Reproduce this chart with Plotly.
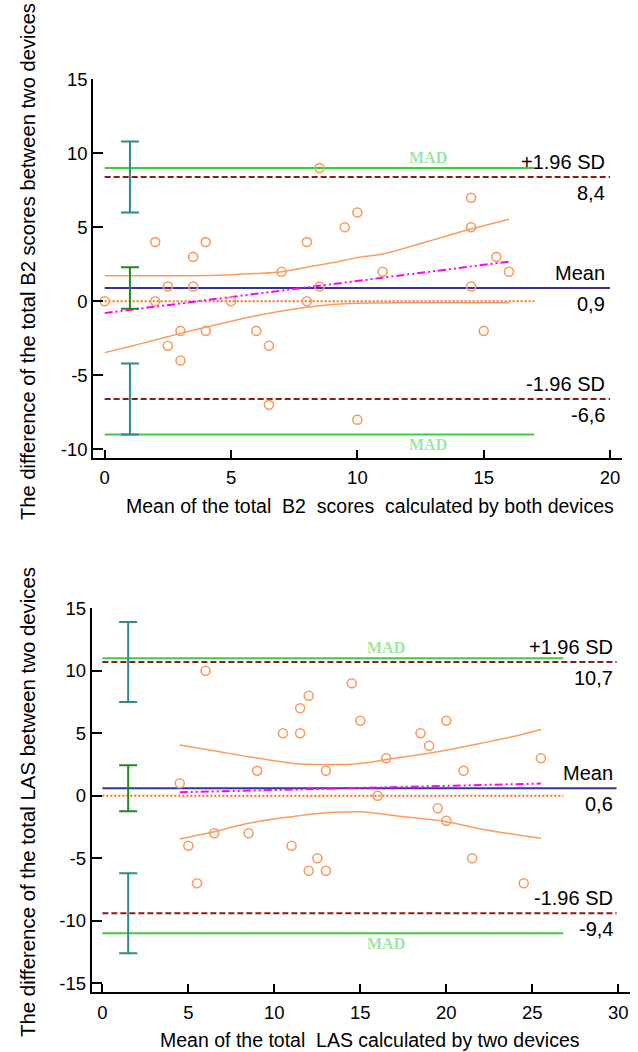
import plotly.graph_objects as go

# ---------------- Top panel: B2 scores ----------------
b2_x = [0, 2, 2, 2.5, 2.5, 3, 3, 3.5, 3.5, 4, 4, 5, 6, 6.5, 6.5, 7, 8, 8, 8.5, 8.5,
        9.5, 10, 10, 11, 14.5, 14.5, 14.5, 15, 15.5, 16]
b2_y = [0, 4, 0, 1, -3, -2, -4, 3, 1, 4, -2, 0, -2, -3, -7, 2, 4, 0, 9, 1,
        5, 6, -8, 2, 7, 5, 1, -2, 3, 2]
b2_mean = 0.9
b2_upper = 8.4
b2_lower = -6.6
b2_mad = 9
b2_ci_mean = 1.4      # half-width of CI of mean
b2_ci_loa = 2.4       # half-width of CI of limits of agreement
b2_reg_x = [0, 16]
b2_reg_y = [-0.8, 2.68]
b2_band_up_x = [0, 2, 4, 5, 6, 7, 8, 9, 10, 11, 12, 13, 14, 15, 16]
b2_band_up_y = [1.73, 1.73, 1.75, 1.8, 1.88, 2.0, 2.3, 2.6, 2.95, 3.2, 3.65, 4.15, 4.65, 5.1, 5.55]
b2_band_lo_x = [0, 1, 2, 3, 4, 5, 6, 7, 8, 9, 10, 12, 14, 16]
b2_band_lo_y = [-3.47, -3.05, -2.62, -2.17, -1.75, -1.35, -0.98, -0.66, -0.4, -0.22, -0.13, -0.1, -0.1, -0.1]
b2_xticks = [0, 5, 10, 15, 20]
b2_yticks = [15, 10, 5, 0, -5, -10]

# ---------------- Bottom panel: LAS ----------------
las_x = [4.5, 5, 5.5, 6, 6.5, 8.5, 9, 10.5, 11, 11.5, 11.5, 12, 12, 12.5, 13, 13,
         14.5, 15, 16, 16.5, 18.5, 19, 19.5, 20, 20, 21, 21.5, 24.5, 25.5]
las_y = [1, -4, -7, 10, -3, -3, 2, 5, -4, 5, 7, 8, -6, -5, -6, 2,
         9, 6, 0, 3, 5, 4, -1, 6, -2, 2, -5, -7, 3]
las_mean = 0.6
las_upper = 10.7
las_lower = -9.4
las_mad = 11
las_ci_mean = 1.84
las_ci_loa = 3.2
las_reg_x = [4.5, 25.5]
las_reg_y = [0.27, 0.97]
las_band_up_x = [4.5, 6.5, 8.5, 11, 12, 13.2, 14.5, 15.5, 16.5, 19, 21.5, 23.7, 25.5]
las_band_up_y = [4.06, 3.6, 3.12, 2.6, 2.51, 2.5, 2.52, 2.66, 2.9, 3.4, 4.05, 4.67, 5.3]
las_band_lo_x = [4.5, 6.5, 8.5, 11, 13, 14.5, 15.2, 17, 20, 22, 25.5]
las_band_lo_y = [-3.46, -2.88, -2.2, -1.68, -1.36, -1.3, -1.3, -1.6, -2.08, -2.66, -3.41]
las_xticks = [0, 5, 10, 15, 20, 25, 30]
las_yticks = [15, 10, 5, 0, -5, -10, -15]

W, H = 638, 1052
FONT = "Liberation Sans, Arial, sans-serif"
SERIF = "Liberation Serif, Times New Roman, serif"

ORANGE = "#ff9a5c"
ZERO = "#ff6a1f"
NAVY = "#34349c"
DRED = "#8b1a1a"
GREEN = "#3ccc3c"
TEAL = "#2b8c8c"
DGREEN = "#1f8a1f"
MAGENTA = "#ff00ff"
MADTXT = "#9fe69f"

fig = go.Figure()


def hline(xa, ya, x0, x1, y, color, dash="solid", width=2):
    fig.add_trace(go.Scatter(x=[x0, x1], y=[y, y], mode="lines", xaxis=xa, yaxis=ya,
                             line=dict(color=color, width=width, dash=dash),
                             hoverinfo="skip", showlegend=False))


def panel(xa, ya, px, py, mean, up, lo, mad, ci_m, ci_l, regx, regy,
          bux, buy, blx, bly, xend, madend, ebx, txt_x, mad_x):
    hline(xa, ya, 0, madend, mad, GREEN)
    hline(xa, ya, 0, madend, -mad, GREEN)
    hline(xa, ya, 0, xend, up, DRED, dash="6px,3px")
    hline(xa, ya, 0, xend, lo, DRED, dash="6px,3px")
    hline(xa, ya, 0, xend, mean, NAVY)
    hline(xa, ya, 0, madend, 0, ZERO, dash="2px,2px")
    fig.add_trace(go.Scatter(x=bux, y=buy, mode="lines", xaxis=xa, yaxis=ya,
                             line=dict(color=ORANGE, width=1.5, shape="spline"),
                             hoverinfo="skip", showlegend=False))
    fig.add_trace(go.Scatter(x=blx, y=bly, mode="lines", xaxis=xa, yaxis=ya,
                             line=dict(color=ORANGE, width=1.5, shape="spline"),
                             hoverinfo="skip", showlegend=False))
    fig.add_trace(go.Scatter(x=regx, y=regy, mode="lines", xaxis=xa, yaxis=ya,
                             line=dict(color=MAGENTA, width=2, dash="8px,3px,2px,3px,2px,3px"),
                             hoverinfo="skip", showlegend=False))
    fig.add_trace(go.Scatter(x=[ebx, ebx], y=[up, lo], mode="markers", xaxis=xa, yaxis=ya,
                             marker=dict(size=1, color="rgba(0,0,0,0)"),
                             error_y=dict(type="constant", value=ci_l, color=TEAL,
                                          thickness=2, width=9),
                             hoverinfo="skip", showlegend=False))
    fig.add_trace(go.Scatter(x=[ebx], y=[mean], mode="markers", xaxis=xa, yaxis=ya,
                             marker=dict(size=1, color="rgba(0,0,0,0)"),
                             error_y=dict(type="constant", value=ci_m, color=DGREEN,
                                          thickness=2, width=9),
                             hoverinfo="skip", showlegend=False))
    fig.add_trace(go.Scatter(x=px, y=py, mode="markers", xaxis=xa, yaxis=ya,
                             marker=dict(symbol="circle-open", size=9,
                                         color=ORANGE, line=dict(width=1.6, color=ORANGE)),
                             showlegend=False))
    lab = [("+1.96 SD", up, 15), (f"{up:.1f}".replace(".", ","), up, -16),
           ("Mean", mean, 15), (f"{mean:.1f}".replace(".", ","), mean, -16),
           ("-1.96 SD", lo, 15), (f"{lo:.1f}".replace(".", ","), lo, -16)]
    for t, yv, sh in lab:
        fig.add_annotation(x=txt_x, y=yv, xref=xa, yref=ya, text=t, showarrow=False,
                           xanchor="right", yanchor="middle", yshift=sh,
                           font=dict(family=FONT, size=20, color="black"))
    for yv, sh in [(mad, 10.5), (-mad, -10.5)]:
        fig.add_annotation(x=mad_x, y=yv, xref=xa, yref=ya, text="<b>MAD</b>",
                           showarrow=False, xanchor="center", yanchor="middle", yshift=sh,
                           font=dict(family=SERIF, size=16, color=MADTXT))


panel("x", "y", b2_x, b2_y, b2_mean, b2_upper, b2_lower, b2_mad, b2_ci_mean, b2_ci_loa,
      b2_reg_x, b2_reg_y, b2_band_up_x, b2_band_up_y, b2_band_lo_x, b2_band_lo_y,
      20, 17, 1, 19.88, 12.8)
panel("x2", "y2", las_x, las_y, las_mean, las_upper, las_lower, las_mad, las_ci_mean,
      las_ci_loa, las_reg_x, las_reg_y, las_band_up_x, las_band_up_y, las_band_lo_x,
      las_band_lo_y, 29.9, 26.8, 1.5, 29.8, 16.5)

axis_common = dict(showline=True, linecolor="black", linewidth=2, ticks="inside",
                   tickwidth=2, tickcolor="black", showgrid=False, zeroline=False,
                   automargin=False,
                   tickfont=dict(family=FONT, size=18.5, color="black"), fixedrange=True)

fig.update_layout(
    width=W, height=H, margin=dict(l=0, r=0, t=0, b=0, autoexpand=False),
    paper_bgcolor="white", plot_bgcolor="white", showlegend=False,
    xaxis=dict(domain=[93.3 / W, 621.7 / W], range=[-0.45, 20.46], anchor="y",
               tickvals=b2_xticks, ticktext=[str(v) for v in b2_xticks], ticklen=8,
               ticklabelstandoff=2, **axis_common),
    yaxis=dict(domain=[1 - 458 / H, 1 - 79.3 / H], range=[-10.59, 15], anchor="x",
               tickvals=b2_yticks, ticktext=[str(v) for v in b2_yticks], ticklen=10,
               **axis_common),
    xaxis2=dict(domain=[91.7 / W, 630 / W], range=[-0.62, 30.68], anchor="y2",
                tickvals=las_xticks, ticktext=[str(v) for v in las_xticks], ticklen=8,
                ticklabelstandoff=2, **axis_common),
    yaxis2=dict(domain=[1 - 992.3 / H, 1 - 608.2 / H], range=[-15.73, 15], anchor="x2",
                tickvals=las_yticks, ticktext=[str(v) for v in las_yticks], ticklen=10,
                **axis_common),
)

titles = [
    ("The difference of the total B2 scores between two devices", 28, 262, -90, 20.2),
    ("Mean of the total\u00a0 B2\u00a0 scores\u00a0 calculated by both devices", 370, 506, 0, 19.5),
    ("The difference of the total LAS between two devices", 28, 802, -90, 20.4),
    ("Mean of the total\u00a0 LAS calculated by two devices", 370, 1040, 0, 19.5),
]
for t, x, y, ang, fs in titles:
    fig.add_annotation(x=x / W, y=1 - y / H, xref="paper", yref="paper", text=t,
                       showarrow=False, textangle=ang, xanchor="center", yanchor="middle",
                       font=dict(family=FONT, size=fs, color="black"))

fig.write_html("out.html", config={"displayModeBar": False},
               post_script="document.body.style.margin='0';")
